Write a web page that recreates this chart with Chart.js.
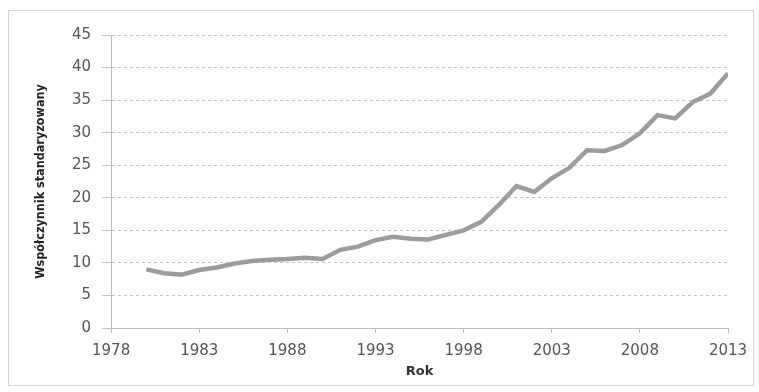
<!DOCTYPE html>
<html>
<head>
<meta charset="utf-8">
<script src="https://cdn.jsdelivr.net/npm/chart.js@4"></script>
<style>
  html, body { margin: 0; padding: 0; background: #fff; }
  #wrap { position: relative; width: 759px; height: 392px; }
  #frame { position: absolute; left: 8px; top: 10px; width: 744px; height: 374px; border: 1px solid #d4d4d4; }
  canvas { position: absolute; left: 0; top: 0; }
</style>
</head>
<body>
<div id="wrap">
  <div id="frame"></div>
  <canvas id="chart" width="759" height="392"></canvas>
</div>
<script>
// lata i wartości
const years = [1980, 1981, 1982, 1983, 1984, 1985, 1986, 1987, 1988, 1989,
  1990, 1991, 1992, 1993, 1994, 1995, 1996, 1997, 1998, 1999,
  2000, 2001, 2002, 2003, 2004, 2005, 2006, 2007, 2008, 2009,
  2010, 2011, 2012, 2013];
const values = [9.0, 8.4, 8.2, 8.9, 9.3, 9.9, 10.3, 10.5, 10.6, 10.8,
  10.6, 12.0, 12.5, 13.5, 14.0, 13.7, 13.6, 14.3, 15.0, 16.3,
  18.9, 21.8, 20.9, 23.0, 24.6, 27.3, 27.2, 28.1, 29.9, 32.7,
  32.2, 34.7, 36.0, 39.1];
const xTicks = [1978, 1983, 1988, 1993, 1998, 2003, 2008, 2013];
const yTicks = [0, 5, 10, 15, 20, 25, 30, 35, 40, 45];

const tickFont = { family: "'DejaVu Sans', sans-serif", size: 15 };
const boldFont = { family: "'DejaVu Sans', sans-serif", size: 13, weight: 'bold', lineHeight: 1 };
const narrowBold = { family: "'DejaVu Sans Condensed', 'Liberation Sans', sans-serif", size: 12.5, weight: 'bold' };

new Chart(document.getElementById('chart'), {
  type: 'line',
  data: {
    datasets: [{
      data: years.map((y, i) => ({ x: y, y: values[i] })),
      borderColor: '#9c9c9c',
      borderWidth: 4.5,
      pointRadius: 0,
      tension: 0
    }]
  },
  options: {
    responsive: false,
    animation: false,
    layout: { padding: { left: 33, right: 31, top: 35, bottom: 14 } },
    plugins: { legend: { display: false }, tooltip: { enabled: false } },
    scales: {
      x: {
        type: 'linear',
        min: 1978, max: 2013,
        afterBuildTicks: axis => { axis.ticks = xTicks.map(v => ({ value: v })); },
        ticks: { color: '#555', font: tickFont, padding: 9, callback: v => String(v) },
        grid: { drawOnChartArea: false, color: '#bbb', tickLength: 5 },
        border: { color: '#bbb' },
        title: { display: true, text: 'Rok', color: '#333', font: boldFont, padding: { top: -4, bottom: 0 } }
      },
      y: {
        min: 0, max: 45,
        afterBuildTicks: axis => { axis.ticks = yTicks.map(v => ({ value: v })); },
        ticks: { color: '#555', font: tickFont, padding: 11 },
        grid: { color: '#c4c4c4', tickLength: 9 },
        border: { color: '#bbb', dash: [3, 3] },
        title: { display: true, text: 'Współczynnik standaryzowany', color: '#222', font: narrowBold, padding: { top: 0, bottom: 13 } }
      }
    }
  }
});
</script>
</body>
</html>
